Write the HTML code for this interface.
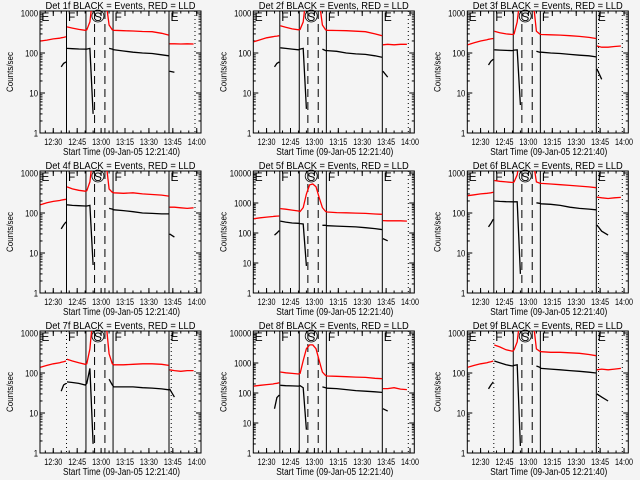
<!DOCTYPE html>
<html><head><meta charset="utf-8"><style>
html,body{margin:0;padding:0;background:#f4f4f4;}
svg{display:block;font-family:"Liberation Sans",sans-serif;}
</style></head><body>
<svg id="chart" width="640" height="480" viewBox="0 0 640 480" xmlns="http://www.w3.org/2000/svg">
<rect x="0" y="0" width="640" height="480" fill="#f4f4f4"/>
</svg>
<script>
// shared time grid (minutes after 12:00); null = gap
const times = [22,26,30,34,35,36.5,38,null,38.6,42,46,50,51,53,55,57,59,61,63,65,67,68,74,80,86,92,98,102.5,null,103,106,110,114,118];
const detectors = ['1f','2f','3f','4f','5f','6f','7f','8f','9f'];
const yMaxDecades = [3,3,3,3,4,3,3,4,3];
const red1 = [200,210,225,235,240,245,255,null,450,420,390,370,380,600,3000,5000,5000,5000,2000,500,380,370,360,355,345,340,310,280,null,170,170,168,170,168];
const red2 = [190,215,240,255,260,265,270,null,480,440,400,380,390,600,3000,5000,5000,5000,2000,500,380,370,365,360,350,340,300,270,null,160,165,160,165,165];
const red3 = [160,180,200,215,220,225,230,null,350,320,300,290,300,600,3000,5000,5000,5000,2000,350,300,290,285,280,270,260,245,230,null,150,140,140,145,150];
const red4 = [160,180,195,205,210,215,220,null,450,400,370,350,360,600,3000,5000,5000,5000,2000,400,330,320,310,320,300,290,280,265,null,140,140,135,130,135];
const red5 = [300,320,340,355,360,365,370,null,650,620,580,540,520,700,2000,4000,4300,3500,1500,700,520,500,480,470,460,450,430,420,null,260,255,255,255,250];
const red6 = [270,285,300,310,315,320,330,null,650,620,600,580,600,900,3000,5000,5000,5000,2000,600,560,550,530,510,490,470,450,430,null,250,240,230,240,245];
const red7 = [140,155,170,180,185,190,200,null,220,200,180,165,170,400,3000,5000,5000,5000,2000,300,170,160,160,165,170,170,165,155,null,120,115,110,115,115];
const red8 = [170,180,190,200,205,210,220,null,500,470,450,430,450,1200,3000,4000,4000,3000,1200,500,380,370,360,350,340,330,310,300,null,140,140,150,135,130];
const red9 = [140,155,170,180,185,190,200,null,500,450,380,350,380,600,3000,5000,5000,5000,2000,400,350,340,330,330,320,310,290,270,null,120,125,120,125,130];
const blk1 = [null,null,null,null,45,55,60,null,130,128,126,125,125,130,3,null,null,null,null,130,125,120,112,105,100,97,90,85,null,35,33,null,null,null];
const blk2 = [null,null,null,null,45,55,60,null,135,130,125,120,125,130,4,null,null,null,null,125,115,115,110,100,95,92,85,78,null,35,25,null,null,null];
const blk3 = [null,null,null,null,50,62,70,null,120,118,116,115,118,120,5,null,null,null,null,110,105,105,100,97,92,88,85,80,null,40,22,null,null,null];
const blk4 = [null,null,null,null,40,50,60,null,160,155,152,150,150,155,5,null,null,null,null,130,125,120,115,108,100,98,95,95,null,30,25,null,null,null];
const blk5 = [null,null,null,null,85,100,120,null,250,230,215,210,205,200,8,null,null,null,null,180,180,175,170,165,160,150,140,130,null,65,55,null,null,null];
const blk6 = [null,null,null,null,45,55,70,null,200,195,192,190,190,190,3,null,null,null,null,180,175,170,165,155,140,130,125,120,null,50,35,28,null,null];
const blk7 = [null,null,null,null,35,50,55,null,60,58,55,50,55,130,1.7,null,null,null,null,70,50,45,45,45,43,42,40,38,null,40,25,null,null,null];
const blk8 = [null,null,null,null,30,70,85,null,180,175,172,170,175,150,6,null,null,null,null,160,150,145,140,130,120,115,110,105,null,30,25,null,null,null];
const blk9 = [null,null,null,null,40,50,60,null,200,180,160,150,155,160,1.5,null,null,null,null,150,140,130,125,120,115,110,105,100,null,30,25,20,null,null];
const redSeries = [red1,red2,red3,red4,red5,red6,red7,red8,red9];
const blackSeries = [blk1,blk2,blk3,blk4,blk5,blk6,blk7,blk8,blk9];
const lineTimes = [38.3,50.5,55.9,62.4,67.5,102.6,118.9];
const lineStyles = ['solid','solid','dash','dash','solid','solid','dot'];
const firstLineDotted = [false,false,false,false,false,false,true,false,true];
const extraDotted = [false,false,true,false,false,true,true,false,true];
const extraDottedTime = 104;
const xTickTimes = [30,45,60,75,90,105,120];
const xTickLabels = ['12:30','12:45','13:00','13:15','13:30','13:45','14:00'];
const markerLabels = ['E','F','S','F','E'];
const markerTimes = [21.9,38.6,58,67.8,102.9];

const svg = document.getElementById('chart');
const NS = 'http://www.w3.org/2000/svg';
const colLefts = [40,253.3,467.3];
const rowTops = [11,171,331];
const PW = 161, PH = 122;
const T0 = 21.67, PXMIN = 1.594;

function mk(tag, attrs, parent){
  const e = document.createElementNS(NS, tag);
  for (const k in attrs) e.setAttribute(k, attrs[k]);
  (parent||svg).appendChild(e);
  return e;
}

for (let p = 0; p < 9; p++) {
  const L = colLefts[p % 3], T = rowTops[Math.floor(p / 3)], B = T + PH, R = L + PW;
  const dec = yMaxDecades[p];
  const pxDec = (PH - 2) / dec;
  const xs = m => L + (m - T0) * PXMIN;
  const ys = v => B - Math.log10(v) * pxDec;
  const g = mk('g', {});
  
  

  const cp = mk('clipPath', {id: 'clip' + p}, g);
  mk('rect', {x: L, y: T, width: PW, height: PH}, cp);

  const title = mk('text', {x: L + PW / 2, y: T - 2, 'text-anchor': 'middle', 'font-size': '10.5', fill: '#000', textLength: '150', lengthAdjust: 'spacingAndGlyphs'}, g);
  
  
  title.textContent = 'Det ' + detectors[p] + ' BLACK = Events, RED = LLD';

  const fr = mk('rect', {x: L, y: T, width: PW, height: PH, fill: 'none', stroke: '#000', 'stroke-width': '1'}, g);
  
  

  for (let d = 0; d <= dec; d++) {
    const y = ys(Math.pow(10, d));
    mk('line', {x1: L, x2: L + 5, y1: y, y2: y, stroke: '#000'}, g);
    mk('line', {x1: R - 5, x2: R, y1: y, y2: y, stroke: '#000'}, g);
    const s = String(Math.pow(10, d));
    const tl = mk('text', {x: L - 2, y: y + 3.5, 'text-anchor': 'end', 'font-size': '9', fill: '#000', textLength: String(s.length * 4.3), lengthAdjust: 'spacingAndGlyphs'}, g);
    
    
    tl.textContent = s;
    if (d < dec) for (let k = 2; k <= 9; k++) {
      const yy = ys(k * Math.pow(10, d));
      mk('line', {x1: L, x2: L + 2.5, y1: yy, y2: yy, stroke: '#000'}, g);
      mk('line', {x1: R - 2.5, x2: R, y1: yy, y2: yy, stroke: '#000'}, g);
    }
  }
  const yt = mk('text', {x: L - 27, y: T + PH / 2, 'text-anchor': 'middle', 'font-size': '9', fill: '#000', transform: 'rotate(-90 ' + (L - 27) + ' ' + (T + PH / 2) + ')', textLength: '40', lengthAdjust: 'spacingAndGlyphs'}, g);
  
  
  yt.textContent = 'Counts/sec';

  for (let i = 0; i < xTickTimes.length; i++) {
    const x = xs(xTickTimes[i]);
    mk('line', {x1: x, x2: x, y1: B, y2: B - 5, stroke: '#000'}, g);
    mk('line', {x1: x, x2: x, y1: T, y2: T + 5, stroke: '#000'}, g);
    const tl = mk('text', {x: x, y: B + 12, 'text-anchor': 'middle', 'font-size': '9', fill: '#000', textLength: '18', lengthAdjust: 'spacingAndGlyphs'}, g);
    
    
    tl.textContent = xTickLabels[i];
  }
  for (let m = 25; m <= 120; m += 5) {
    const x = xs(m);
    mk('line', {x1: x, x2: x, y1: B, y2: B - 2.5, stroke: '#000'}, g);
    mk('line', {x1: x, x2: x, y1: T, y2: T + 2.5, stroke: '#000'}, g);
  }
  const xt = mk('text', {x: L + PW / 2 + 1, y: B + 22, 'text-anchor': 'middle', 'font-size': '10', fill: '#000', textLength: '117', lengthAdjust: 'spacingAndGlyphs'}, g);
  
  
  xt.textContent = 'Start Time (09-Jan-05 12:21:40)';

  for (let i = 0; i < lineTimes.length; i++) {
    let st = lineStyles[i];
    if (i === 0 && firstLineDotted[p]) st = 'dot';
    const x = xs(lineTimes[i]);
    const a = {x1: x, x2: x, y1: T, y2: B, stroke: '#000', 'stroke-width': '1'};
    if (st === 'dash') a['stroke-dasharray'] = '8,5';
    if (st === 'dot') a['stroke-dasharray'] = '1,3';
    const ln = mk('line', a, g);
    
    
  }
  if (extraDotted[p]) {
    const x = xs(extraDottedTime);
    const ln = mk('line', {x1: x, x2: x, y1: T, y2: B, stroke: '#000', 'stroke-dasharray': '1,3'}, g);
    
    
  }
  for (let i = 0; i < markerLabels.length; i++) {
    const x = xs(markerTimes[i]);
    const t = mk('text', {x: markerLabels[i] === 'S' ? x : x + 1, y: T + 10, 'text-anchor': markerLabels[i] === 'S' ? 'middle' : 'start', 'font-size': '12', fill: '#000'}, g);
    
    
    t.textContent = markerLabels[i];
    if (markerLabels[i] === 'S') {
      const c = mk('circle', {cx: x, cy: T + 5, r: 6, fill: 'none', stroke: '#000', 'stroke-width': '0.8'}, g);
      
      
    }
  }

  function series(vals, color, name) {
    let d = '', pen = false;
    for (let i = 0; i < times.length; i++) {
      if (times[i] === null || vals[i] === null) { pen = false; continue; }
      d += (pen ? 'L' : 'M') + xs(times[i]).toFixed(1) + ' ' + ys(vals[i]).toFixed(1);
      pen = true;
    }
    const path = mk('path', {d: d, fill: 'none', stroke: color, 'stroke-width': '1.3', 'clip-path': 'url(#clip' + p + ')'}, g);
    
    
  }
  series(redSeries[p], '#ff0000', 'lld-series-red');
  series(blackSeries[p], '#000000', 'events-series-black');
}
</script>
</body></html>
